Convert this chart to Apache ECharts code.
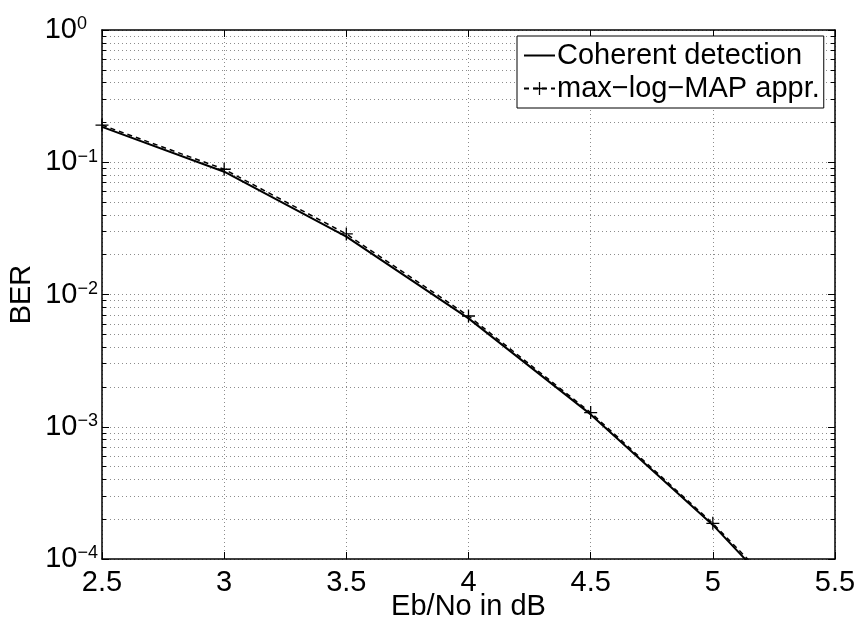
<!DOCTYPE html>
<html>
<head>
<meta charset="utf-8">
<script src="https://cdn.jsdelivr.net/npm/echarts@6/dist/echarts.min.js"></script>
<style>
html,body{margin:0;padding:0;background:#fff;}
#chart{width:857px;height:620px;}
</style>
</head>
<body>
<div id="chart"></div>
<script>
// ---- data ----
const ebnoDb = [2.5, 3, 3.5, 4, 4.5, 5, 5.5];
const berCoherent = [0.185, 0.0848, 0.0274, 0.0066, 0.00124, 1.81e-4, 1.9e-5];
const berMaxLogMap = [0.191, 0.0885, 0.0287, 0.00688, 0.00128, 1.86e-4, 2.1e-5];
const seriesNames = ['Coherent detection', 'max\u2212log\u2212MAP appr.'];
const xTicks = [2.5, 3, 3.5, 4, 4.5, 5, 5.5];
const yTickExponents = [0, -1, -2, -3, -4];
const axisTitles = { x: 'Eb/No in dB', y: 'BER' };

const FONT = 'Liberation Sans, Arial, Helvetica, sans-serif';
const gridColor = '#8c8c8c';
const dotted = [1, 3];
const plusPath = 'path://M-0.1,-1 L0.1,-1 L0.1,-0.1 L1,-0.1 L1,0.1 L0.1,0.1 L0.1,1 L-0.1,1 L-0.1,0.1 L-1,0.1 L-1,-0.1 L-0.1,-0.1 Z';
const solidIcon = 'path://M0,0 L31,0 L31,2 L0,2 Z';

const toPairs = (xs, ys) => xs.map((x, i) => [x, ys[i]]);

const chart = echarts.init(document.getElementById('chart'), null, { renderer: 'canvas' });

const yLabelFormatter = v => {
  const e = Math.round(Math.log10(v));
  if (yTickExponents.indexOf(e) < 0) return '';
  return e === 0 ? '{b|10}{z|0}' : '{b|10}{s|\u2212' + (-e) + '}';
};

const commonY = {
  type: 'log',
  logBase: 10,
  min: 1e-4,
  max: 1,
  splitNumber: 4,
  axisLine: { show: true, lineStyle: { color: '#000', width: 1.5 } },
  axisTick: { show: true, inside: true, length: 7, lineStyle: { color: '#000', width: 1 } },
  minorTick: { show: true, splitNumber: 9, length: 4, lineStyle: { color: '#000', width: 1 } }
};

const option = {
  animation: false,
  backgroundColor: '#fff',
  textStyle: { fontFamily: FONT },
  grid: { left: 102, right: 22, top: 30, bottom: 61, containLabel: false, outerBoundsMode: 'none' },
  legend: {
    orient: 'vertical',
    left: 517,
    top: 36,
    padding: [3, 4, 3, 6],
    itemGap: 0,
    itemWidth: 31,
    itemHeight: 16,
    backgroundColor: '#fff',
    borderColor: '#000',
    borderWidth: 1,
    borderRadius: 0,
    selectedMode: false,
    textStyle: { fontFamily: FONT, fontSize: 29, color: '#000', lineHeight: 33, padding: [0, 0, 0, -3] },
    data: [{ name: seriesNames[0], icon: solidIcon }, { name: seriesNames[1] }]
  },
  xAxis: [
    {
      type: 'value',
      min: 2.5,
      max: 5.5,
      interval: 0.5,
      name: axisTitles.x,
      nameLocation: 'middle',
      nameGap: 33,
      nameMoveOverlap: false,
      nameTextStyle: { fontFamily: FONT, fontSize: 29, color: '#000' },
      axisLine: { show: true, onZero: false, lineStyle: { color: '#000', width: 1.5 } },
      axisTick: { show: true, inside: true, length: 7, lineStyle: { color: '#000', width: 1 } },
      axisLabel: {
        show: true, margin: 9, fontFamily: FONT, fontSize: 29, color: '#000',
        formatter: v => (xTicks.indexOf(v) >= 0 ? String(v) : '')
      },
      splitLine: { show: true, lineStyle: { color: gridColor, width: 1, type: dotted } }
    },
    {
      type: 'value',
      position: 'top',
      min: 2.5,
      max: 5.5,
      interval: 0.5,
      axisLine: { show: true, onZero: false, lineStyle: { color: '#000', width: 1.5 } },
      axisTick: { show: true, inside: true, length: 7, lineStyle: { color: '#000', width: 1 } },
      axisLabel: { show: false },
      splitLine: { show: false }
    }
  ],
  yAxis: [
    Object.assign({}, commonY, {
      name: axisTitles.y,
      nameLocation: 'middle',
      nameGap: 66,
      nameMoveOverlap: false,
      nameRotate: 90,
      nameTextStyle: { fontFamily: FONT, fontSize: 29, color: '#000' },
      axisLabel: {
        show: true, margin: 4, fontFamily: FONT, color: '#000',
        formatter: yLabelFormatter,
        rich: {
          b: { fontFamily: FONT, fontSize: 29, lineHeight: 29, color: '#000', padding: [9.5, 0, 9.5, 0], verticalAlign: 'middle' },
          s: { fontFamily: FONT, fontSize: 18, lineHeight: 18, color: '#000', verticalAlign: 'top' },
          z: { fontFamily: FONT, fontSize: 18, lineHeight: 18, color: '#000', verticalAlign: 'top', padding: [0, 11, 0, 0] }
        }
      },
      splitLine: { show: true, lineStyle: { color: gridColor, width: 1, type: dotted } },
      minorSplitLine: { show: true, lineStyle: { color: gridColor, width: 1, type: dotted } }
    }),
    Object.assign({}, commonY, {
      position: 'right',
      axisLabel: { show: false },
      splitLine: { show: false },
      minorSplitLine: { show: false }
    })
  ],
  series: [
    {
      name: seriesNames[0],
      type: 'line',
      xAxisIndex: 0,
      yAxisIndex: 0,
      data: toPairs(ebnoDb, berCoherent),
      symbol: 'none',
      clip: true,
      lineStyle: { color: '#000', width: 2, type: 'solid' },
      itemStyle: { color: '#000' },
      z: 3
    },
    {
      name: seriesNames[1],
      type: 'line',
      xAxisIndex: 0,
      yAxisIndex: 0,
      data: toPairs(ebnoDb, berMaxLogMap),
      symbol: plusPath,
      symbolSize: 13,
      showSymbol: true,
      clip: true,
      lineStyle: { color: '#000', width: 1.5, type: [5, 4] },
      itemStyle: { color: '#000' },
      z: 4
    }
  ]
};

chart.setOption(option);
</script>
</body>
</html>
